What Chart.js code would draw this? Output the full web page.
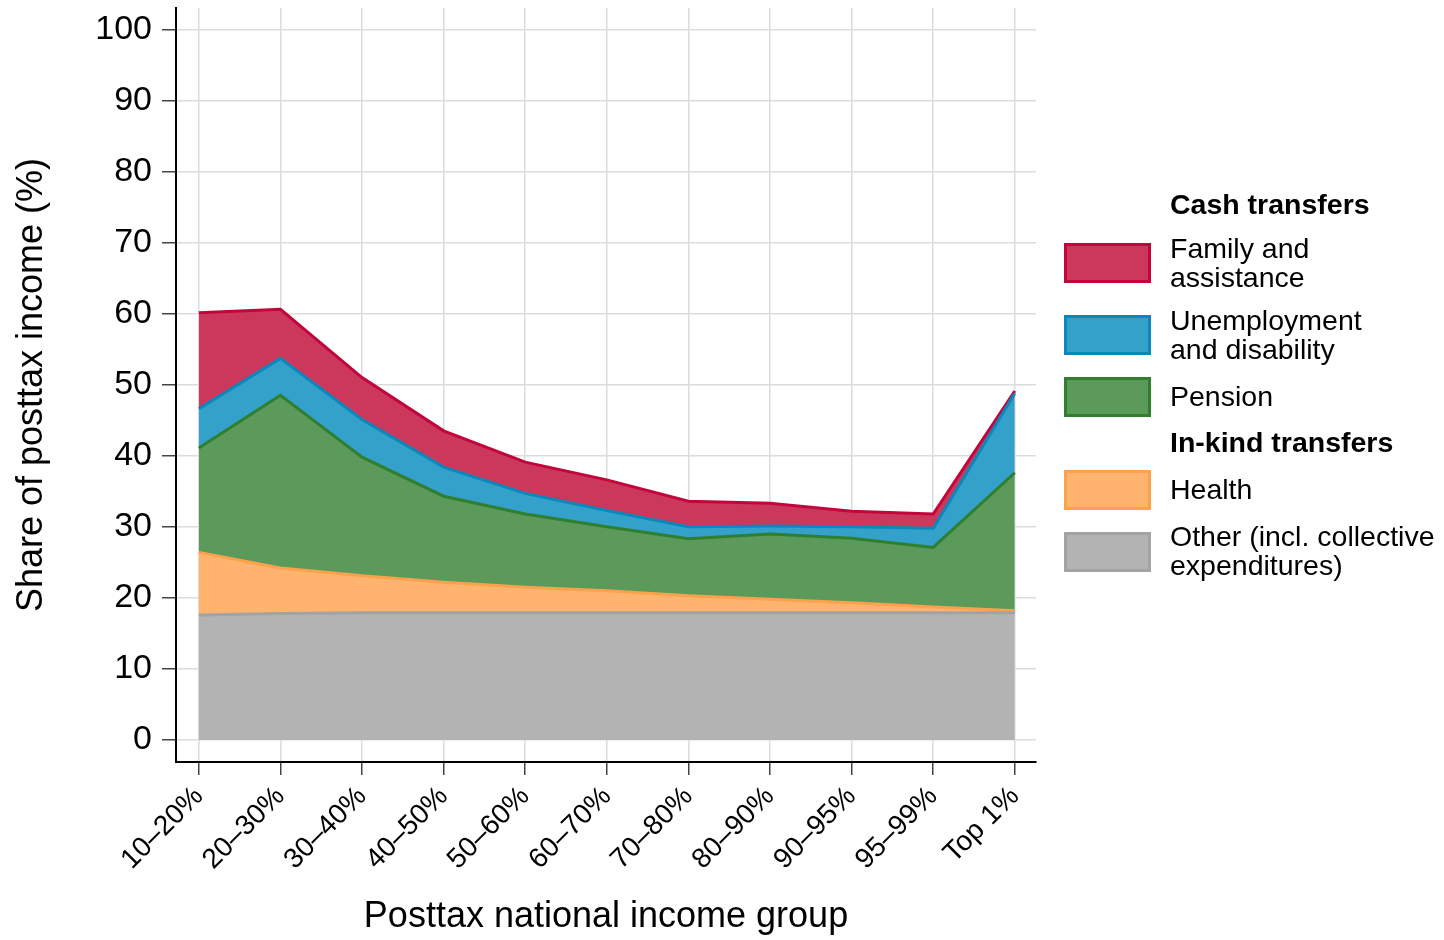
<!DOCTYPE html>
<html>
<head>
<meta charset="utf-8">
<script src="https://cdn.jsdelivr.net/npm/chart.js@4.4.1/dist/chart.umd.min.js"></script>
<style>
  body { margin: 0; background: #fff; font-family: "Liberation Sans", Arial, sans-serif; }
  #wrap { position: relative; width: 1444px; height: 940px; }
  #legend { position: absolute; left: 0; top: 0; }
  .sw { position: absolute; left: 1064px; width: 81px; height: 34px; border: 3px solid; box-sizing: content-box; }
  .tx { position: absolute; left: 1170px; font-size: 28.5px; line-height: 29px; color: #000; white-space: nowrap; }
  .hd { font-weight: bold; }
</style>
</head>
<body>
<div id="wrap">
  <canvas id="chart" width="1444" height="940"></canvas>
  <div id="legend"></div>
</div>
<script>
const groups = ["10–20%", "20–30%", "30–40%", "40–50%", "50–60%", "60–70%", "70–80%", "80–90%", "90–95%", "95–99%", "Top 1%"];

// shares of posttax income (%), stacked from the bottom
const other = [17.6, 17.8, 17.9, 17.9, 17.9, 17.9, 17.9, 17.9, 17.9, 17.9, 17.9];
const health = [8.8, 6.4, 5.2, 4.3, 3.6, 3.1, 2.4, 1.9, 1.4, 0.8, 0.3];
const pension = [14.7, 24.3, 16.7, 12.1, 10.3, 9.0, 8.0, 9.2, 9.1, 8.4, 19.4];
const unemployment = [5.5, 5.2, 5.3, 4.1, 2.9, 2.3, 1.7, 1.1, 1.6, 2.7, 11.2];
const family = [13.5, 6.9, 5.9, 5.1, 4.4, 4.3, 3.6, 3.2, 2.2, 2.0, 0.3];

const yTicks = [0, 10, 20, 30, 40, 50, 60, 70, 80, 90, 100];

const series = [
  { label: "Other (incl. collective expenditures)", data: other, fill: "#b3b3b3", line: "#a3a3a3" },
  { label: "Health", data: health, fill: "#feb46f", line: "#fca24c" },
  { label: "Pension", data: pension, fill: "#5c9a5c", line: "#2f7f2f" },
  { label: "Unemployment and disability", data: unemployment, fill: "#33a1c9", line: "#0a88bb" },
  { label: "Family and assistance", data: family, fill: "#cc385b", line: "#c2063c" }
];

const font = '"Liberation Sans", Arial, sans-serif';

const ctx = document.getElementById("chart").getContext("2d");
new Chart(ctx, {
  type: "line",
  data: {
    datasets: series.map((s, i) => ({
      label: s.label,
      data: s.data.map((v, j) => ({ x: j, y: v })),
      backgroundColor: s.fill,
      borderColor: s.line,
      borderWidth: 3,
      pointRadius: 0,
      tension: 0,
      fill: i === 0 ? "origin" : "-1"
    }))
  },
  options: {
    responsive: false,
    animation: false,
    layout: { padding: { left: 0, right: 408, top: 8, bottom: 0 } },
    plugins: { legend: { display: false }, tooltip: { enabled: false } },
    scales: {
      x: {
        type: "linear",
        min: -0.28,
        max: 10.26,
        afterBuildTicks: axis => { axis.ticks = groups.map((g, i) => ({ value: i })); },
        afterFit: axis => { axis.height = 178; axis.paddingLeft = 0; axis.paddingRight = 0; },
        ticks: {
          callback: v => groups[v],
          maxRotation: 45,
          minRotation: 45,
          font: { family: font, size: 28 },
          color: "#000",
          padding: 5
        },
        grid: { color: "#dcdcdc", lineWidth: 1.5, tickColor: "#444", tickLength: 13 },
        border: { color: "#000", width: 2 },
        title: {
          display: true,
          text: "Posttax national income group",
          font: { family: font, size: 36 },
          color: "#000",
          padding: { top: 0, bottom: 1 }
        }
      },
      y: {
        stacked: true,
        min: -3.1,
        max: 103,
        afterBuildTicks: axis => { axis.ticks = yTicks.map(v => ({ value: v })); },
        afterFit: axis => { axis.width = 176; axis.paddingTop = 0; axis.paddingBottom = 0; },
        ticks: {
          font: { family: font, size: 34 },
          color: "#000",
          padding: 10
        },
        grid: { color: "#dcdcdc", lineWidth: 1.5, tickColor: "#444", tickLength: 14 },
        border: { color: "#000", width: 2 },
        title: {
          display: true,
          text: "Share of posttax income (%)",
          font: { family: font, size: 36 },
          color: "#000",
          padding: { top: 10, bottom: 0 }
        }
      }
    }
  }
});

// legend on the right, grouped as in the original figure
const legendRows = [
  { head: "Cash transfers", top: 190 },
  { s: 4, lines: ["Family and", "assistance"], top: 234, sw: 243 },
  { s: 3, lines: ["Unemployment", "and disability"], top: 306, sw: 315 },
  { s: 2, lines: ["Pension"], top: 382, sw: 377 },
  { head: "In-kind transfers", top: 428 },
  { s: 1, lines: ["Health"], top: 475, sw: 470 },
  { s: 0, lines: ["Other (incl. collective", "expenditures)"], top: 522, sw: 532 }
];
const legend = document.getElementById("legend");
legendRows.forEach(r => {
  const t = document.createElement("div");
  t.className = "tx" + (r.head ? " hd" : "");
  t.style.top = r.top + "px";
  t.innerHTML = r.head ? r.head : r.lines.join("<br>");
  legend.appendChild(t);
  if (!r.head) {
    const b = document.createElement("div");
    b.className = "sw";
    b.style.top = r.sw + "px";
    b.style.background = series[r.s].fill;
    b.style.borderColor = series[r.s].line;
    legend.appendChild(b);
  }
});
</script>
</body>
</html>
